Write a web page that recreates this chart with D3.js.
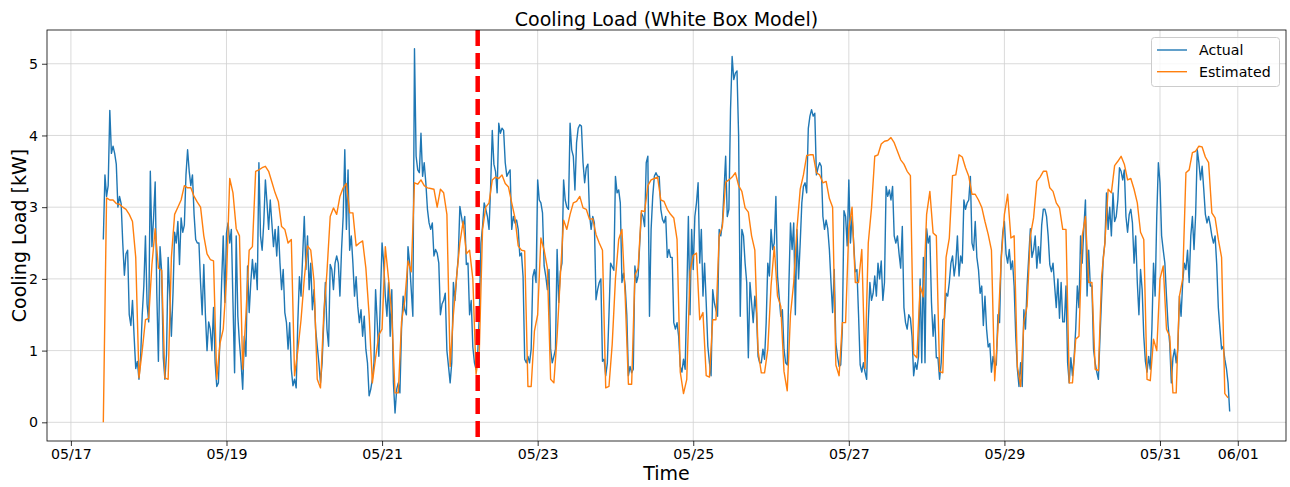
<!DOCTYPE html>
<html>
<head>
	<meta charset="utf-8">
	<title>Cooling Load (White Box Model)</title>
	<script src="https://cdn.jsdelivr.net/npm/d3@7"></script>
	<style>
		body { margin: 0; background: #fff; }
		svg { display: block; font-family: "DejaVu Sans", sans-serif; }
		.grid line { stroke: #d0d0d0; stroke-width: 0.8; }
		.axis text { font-size: 14.2px; fill: #000; font-family: "DejaVu Sans", sans-serif; }
		.axis line { stroke: #000; stroke-width: 0.8; }
	</style>
</head>
<body>
	<div id="chartDiv"></div>
<script>

	// measured load, one value every 30 min from 05/17 10:00
	const actualStart = '2021-05-17 10:00';
	const actualStepMin = 30;
	const actualLoad = [
		2.55,3.45,3.15,3.3,4.35,3.75,3.85,3.75,3.6,3.0,3.15,3.05,
		2.5,2.05,2.35,2.4,1.5,1.35,1.7,1.2,0.75,0.85,0.6,0.9,
		1.5,1.9,2.6,1.65,1.4,3.5,2.45,2.85,3.35,1.8,0.85,2.45,
		2.1,0.9,0.6,0.95,2.3,1.75,1.2,1.8,2.65,2.5,2.8,2.2,
		2.85,2.65,2.75,3.45,3.8,3.5,3.3,3.45,2.9,2.55,2.5,2.5,
		1.95,1.5,2.2,1.5,1.0,1.4,1.3,1.0,1.6,0.83,0.5,0.55,
		1.2,1.95,2.6,1.67,2.64,2.78,2.5,2.69,1.67,0.69,2.6,1.48,
		1.11,0.83,0.46,1.2,0.92,2.18,1.53,1.95,2.27,2.0,2.22,1.85,
		3.62,2.6,2.4,2.78,3.38,3.06,2.69,3.1,2.78,2.45,2.69,2.32,
		2.73,2.22,1.85,2.13,1.53,1.39,1.02,1.39,0.74,0.51,0.6,0.48,
		1.39,2.03,1.76,2.32,2.87,2.13,2.6,1.85,2.22,1.57,1.85,1.3,
		1.06,0.83,0.55,0.83,1.39,1.95,1.3,1.06,2.2,2.13,1.85,2.22,
		2.32,2.22,1.76,2.41,2.87,3.8,2.69,3.52,2.4,2.6,2.22,1.76,
		2.03,1.62,1.39,1.57,1.2,1.48,1.02,0.83,0.37,0.46,0.6,0.83,
		1.85,1.4,0.92,1.76,2.5,2.22,1.76,1.48,1.95,1.2,1.85,0.55,
		0.13,0.46,0.55,0.41,1.3,1.76,1.57,1.5,2.45,2.22,1.85,1.48,
		5.21,3.71,3.52,3.48,4.03,3.43,3.62,3.34,2.97,2.78,2.69,2.78,
		2.32,2.41,2.36,2.22,1.5,1.65,1.7,1.8,1.0,0.78,0.55,0.83,
		1.95,1.7,2.03,2.3,3.01,2.87,2.73,2.87,2.2,2.22,1.5,1.7,
		1.05,0.83,0.74,0.95,1.5,2.5,2.73,3.06,2.97,2.87,2.69,3.3,
		4.07,3.6,3.5,3.2,4.17,4.03,4.1,4.07,3.62,3.43,3.48,3.52,
		2.69,2.87,2.78,2.82,2.69,2.32,2.36,2.03,0.88,0.83,0.92,0.83,
		1.02,2.03,2.13,1.95,3.38,3.1,3.06,2.92,2.18,2.04,1.85,2.13,
		1.02,0.83,0.92,1.02,2.41,1.67,2.1,2.22,3.38,3.1,3.0,2.97,
		4.17,3.8,3.71,3.24,3.9,4.1,4.15,4.13,3.62,3.34,3.55,3.6,
		2.9,2.69,2.87,2.78,1.71,1.85,1.95,2.0,0.85,0.88,0.65,0.83,
		1.5,2.22,2.17,2.12,3.43,3.2,3.24,3.06,1.95,2.08,1.9,1.5,
		0.65,0.78,0.69,0.74,2.18,1.95,2.04,2.5,2.92,2.87,2.73,3.62,
		3.71,1.48,2.69,3.15,3.43,3.48,3.43,3.43,2.97,2.83,2.78,2.87,
		2.3,2.41,2.3,2.3,1.39,1.3,1.39,1.2,0.78,0.7,0.88,0.74,
		1.76,2.87,1.5,2.69,2.13,2.87,3.06,3.34,2.22,2.69,1.76,2.22,
		1.67,1.06,0.83,0.65,1.85,1.67,1.57,1.48,2.69,2.6,2.78,3.24,
		3.71,2.87,2.97,4.36,5.1,4.78,4.87,4.9,4.0,1.48,2.69,2.6,
		2.22,1.95,0.9,1.95,1.67,1.39,1.76,1.53,0.92,0.83,0.83,1.02,
		0.88,1.39,2.22,2.04,2.69,2.41,2.5,3.15,2.04,1.76,1.48,1.57,
		1.02,0.83,0.8,1.9,2.78,2.41,2.78,1.5,2.69,2.0,2.5,3.06,
		3.29,3.34,3.2,4.1,4.27,4.36,4.27,4.31,3.45,3.55,3.62,3.57,
		2.87,2.69,2.82,2.7,2.41,1.95,1.53,2.13,1.1,0.92,0.78,0.8,
		1.3,2.95,2.87,2.46,3.38,2.5,2.87,2.5,2.1,2.13,1.5,0.8,
		0.7,0.83,0.7,0.6,1.4,1.95,1.7,1.8,2.04,1.76,2.22,2.0,
		2.25,1.7,1.95,3.29,3.15,3.24,3.1,3.29,2.6,2.5,2.6,2.35,
		2.15,2.73,1.6,1.39,1.3,1.5,1.45,1.2,0.65,0.83,0.74,0.92,
		2.0,0.83,2.3,0.83,2.7,2.5,2.6,1.67,1.2,1.5,0.9,0.9,
		0.6,0.83,1.43,1.45,1.8,1.76,1.95,2.22,2.32,2.04,2.22,2.6,
		2.04,2.32,2.22,3.1,2.97,3.06,3.1,3.43,2.5,2.4,2.8,2.3,
		2.13,1.8,1.9,1.35,1.76,1.3,1.05,1.1,0.7,0.92,0.8,0.8,
		1.5,1.39,2.3,2.65,2.8,2.35,2.22,2.41,2.13,2.25,1.9,1.2,
		0.74,0.5,0.83,0.5,1.57,1.3,1.9,2.3,2.7,2.3,2.4,2.6,
		2.15,2.45,2.22,2.75,2.97,2.97,2.87,2.6,2.2,2.1,2.22,1.9,
		1.6,2.0,1.45,1.95,1.4,1.4,1.9,0.83,0.55,0.9,0.65,0.9,
		1.3,1.9,1.6,2.6,2.22,2.7,3.1,1.76,2.4,1.9,1.9,1.02,
		0.83,0.7,0.6,1.2,1.76,2.3,2.5,3.2,2.69,3.0,2.6,3.2,
		2.8,2.87,3.1,3.55,3.5,3.38,3.52,2.87,2.65,2.9,2.97,2.78,
		2.22,2.6,1.95,1.5,2.13,1.85,1.2,0.85,0.7,0.92,0.74,1.3,
		2.22,1.76,2.87,3.62,3.34,2.6,2.4,2.22,1.76,1.35,1.1,0.55,
		0.9,1.02,0.83,1.02,1.76,1.48,1.95,2.22,2.13,2.4,1.95,2.6,
		2.87,2.41,2.9,3.8,3.62,3.38,3.57,3.25,2.9,2.78,2.87,2.75,
		2.6,2.5,2.6,2.2,1.6,1.3,1.02,1.06,0.88,0.75,0.55,0.15
	];

	// white box model output, one value every hour from 05/17 10:00
	const estimatedStart = '2021-05-17 10:00';
	const estimatedStepMin = 60;
	const estimatedLoad = [
		0,3.13,3.1,3.1,3.05,3.04,3.0,2.97,2.9,2.8,2.3,0.62,
		1.0,1.43,1.45,2.2,2.7,2.15,2.12,0.62,0.6,2.3,2.9,3.0,
		3.1,3.3,3.27,3.27,3.15,3.07,3.0,2.6,2.35,2.27,2.25,0.6,
		1.1,1.3,2.0,3.4,3.2,2.7,2.6,0.74,1.5,2.4,2.45,3.5,
		3.52,3.55,3.57,3.5,3.35,3.2,3.08,2.73,2.69,2.5,2.55,0.65,
		1.0,1.43,2.0,2.46,2.4,1.97,0.6,0.48,1.5,2.1,2.87,2.99,
		2.9,3.15,3.27,3.33,2.92,2.92,2.46,2.5,2.53,2.15,1.5,0.55,
		0.9,1.22,1.3,2.45,2.0,1.5,0.41,0.41,1.4,1.7,2.25,2.1,
		3.34,3.32,3.38,3.3,3.27,3.26,3.25,3.0,3.25,3.2,2.9,0.78,
		1.5,2.03,2.5,2.8,2.35,2.4,2.0,0.67,1.0,2.69,3.0,3.06,
		3.38,3.42,3.4,3.45,3.33,3.28,3.06,2.85,2.46,2.4,2.39,0.5,
		0.5,1.27,1.5,2.57,2.4,2.15,0.6,0.55,1.2,2.04,2.82,2.69,
		2.9,3.06,3.08,3.15,2.99,2.97,2.83,2.84,2.62,2.5,2.4,0.48,
		0.5,1.09,2.0,2.55,2.69,1.76,0.53,0.53,2.05,2.15,2.95,2.94,
		3.3,3.38,3.4,3.42,3.1,3.08,2.97,2.9,2.85,2.55,0.7,0.4,
		0.6,2.1,2.33,2.36,1.43,1.53,0.65,0.63,1.43,1.43,2.6,2.73,
		3.35,3.38,3.42,3.48,3.3,3.22,2.99,2.93,2.6,2.4,1.0,0.69,
		0.69,1.02,1.9,2.45,1.76,1.62,0.71,0.44,1.5,1.95,2.7,3.25,
		3.45,3.72,3.73,3.73,3.48,3.45,3.34,3.36,3.12,3.0,0.8,0.65,
		1.39,1.39,2.7,3.0,1.95,1.95,2.41,0.75,2.5,2.99,3.71,3.73,
		3.88,3.92,3.93,3.97,3.9,3.78,3.66,3.6,3.5,3.44,0.95,0.9,
		1.9,1.75,2.9,3.22,2.64,2.6,0.71,0.69,2.3,2.57,3.44,3.45,
		3.73,3.7,3.55,3.43,3.18,3.18,3.1,3.0,2.8,2.62,2.4,0.58,
		1.3,2.25,2.9,3.18,2.57,2.6,0.78,0.5,1.4,1.62,2.6,2.85,
		3.36,3.42,3.5,3.5,3.27,3.22,3.06,2.99,2.69,2.69,0.55,0.55,
		1.16,1.2,2.6,2.87,1.95,1.95,0.74,0.72,2.04,2.5,3.25,3.2,
		3.58,3.64,3.71,3.6,3.38,3.4,3.25,3.06,2.65,2.55,0.6,0.58,
		1.16,1.0,2.0,2.18,1.3,1.2,0.41,0.41,1.76,2.0,3.48,3.52,
		3.76,3.78,3.85,3.84,3.7,3.62,2.92,2.85,2.55,2.3,0.4,0.34
	];

	// train / test split marker
	const splitTime = '2021-05-22 05:30';

	const xTickLabels = ['05/17','05/19','05/21','05/23','05/25','05/27','05/29','05/31','06/01'];
	const yTicks = [0, 1, 2, 3, 4, 5];
	const seriesNames = ['Actual', 'Estimated'];
	const seriesColors = ['#1f77b4', '#ff7f0e'];

	const width = 1290;
	const height = 487;
	const margin = {
		left: 47,
		right: 4,
		top: 30,
		bottom: 46
	};
	const innerW = width - margin.left - margin.right;
	const innerH = height - margin.top - margin.bottom;

	const parseTime = d3.timeParse('%Y-%m-%d %H:%M');
	const parseTick = d3.timeParse('%Y/%m/%d');

	const toPoints = (start, step, values) => {
		const t0 = parseTime(start);
		return values.map((v, i) => ({ time: d3.timeMinute.offset(t0, i * step), value: v }));
	};

	const actualPts = toPoints(actualStart, actualStepMin, actualLoad);
	const estimatedPts = toPoints(estimatedStart, estimatedStepMin, estimatedLoad);
	const allPts = actualPts.concat(estimatedPts);

	//Setup Scales (5% padding like matplotlib)
	const [tMin, tMax] = d3.extent(allPts, d => d.time);
	const tPad = (tMax - tMin) * 0.05;
	const xScale = d3.scaleTime()
		.domain([new Date(+tMin - tPad), new Date(+tMax + tPad)])
		.range([0, innerW]);

	const [vMin, vMax] = d3.extent(allPts, d => d.value);
	const vPad = (vMax - vMin) * 0.05;
	const yScale = d3.scaleLinear()
		.domain([vMin - vPad, vMax + vPad])
		.range([innerH, 0]);

	const xTickDates = xTickLabels.map(s => parseTick('2021/' + s));

	//Select/Create svg, g
	const svgObj = d3.select('#chartDiv').append('svg')
		.attr('width', width)
		.attr('height', height);

	const gObj = svgObj.append('g')
		.attr('transform', `translate(${margin.left},${margin.top})`);

	//grid
	const gridG = gObj.append('g').attr('class', 'grid');
	gridG.selectAll('.vgrid')
		.data(xTickDates)
		.enter()
		.append('line')
		.attr('x1', d => xScale(d))
		.attr('x2', d => xScale(d))
		.attr('y1', 0)
		.attr('y2', innerH);
	gridG.selectAll('.hgrid')
		.data(yTicks)
		.enter()
		.append('line')
		.attr('x1', 0)
		.attr('x2', innerW)
		.attr('y1', d => yScale(d))
		.attr('y2', d => yScale(d));

	//lines
	const lineFunc = d3.line()
		.x(d => xScale(d.time))
		.y(d => yScale(d.value));

	[actualPts, estimatedPts].forEach((pts, i) => {
		gObj.append('path')
			.datum(pts)
			.attr('d', lineFunc)
			.attr('fill', 'none')
			.attr('stroke', seriesColors[i])
			.attr('stroke-width', 1.4)
			.attr('stroke-linejoin', 'round');
	});

	//split marker
	const splitX = xScale(parseTime(splitTime));
	gObj.append('line')
		.attr('x1', splitX)
		.attr('x2', splitX)
		.attr('y1', 0)
		.attr('y2', innerH)
		.attr('stroke', '#ff0000')
		.attr('stroke-width', 4.5)
		.attr('stroke-dasharray', '16 7');

	//axes
	const xAxis = d3.axisBottom(xScale)
		.tickValues(xTickDates)
		.tickFormat(d3.timeFormat('%m/%d'))
		.tickSize(5)
		.tickPadding(3);
	const yAxis = d3.axisLeft(yScale)
		.tickValues(yTicks)
		.tickFormat(d3.format('d'))
		.tickSize(5)
		.tickPadding(4);

	gObj.append('g')
		.attr('class', 'axis')
		.attr('transform', `translate(0,${innerH})`)
		.call(xAxis)
		.call(g => g.select('.domain').remove());

	gObj.append('g')
		.attr('class', 'axis')
		.call(yAxis)
		.call(g => g.select('.domain').remove());

	//frame
	gObj.append('rect')
		.attr('x', 0)
		.attr('y', 0)
		.attr('width', innerW)
		.attr('height', innerH)
		.attr('fill', 'none')
		.attr('stroke', '#000')
		.attr('stroke-width', 0.8);

	//labels
	svgObj.append('text')
		.attr('x', margin.left + innerW / 2)
		.attr('y', 26)
		.attr('text-anchor', 'middle')
		.style('font-size', '19px')
		.text('Cooling Load (White Box Model)');

	svgObj.append('text')
		.attr('x', margin.left + innerW / 2)
		.attr('y', 480)
		.attr('text-anchor', 'middle')
		.style('font-size', '19px')
		.text('Time');

	svgObj.append('text')
		.attr('transform', `translate(26,${margin.top + innerH / 2}) rotate(-90)`)
		.attr('text-anchor', 'middle')
		.style('font-size', '19px')
		.text('Cooling Load [kW]');

	//legend
	const legendW = 128;
	const legendH = 49;
	const legendG = gObj.append('g')
		.attr('transform', `translate(${innerW - 7 - legendW},7)`);

	legendG.append('rect')
		.attr('x', 0.5)
		.attr('y', 0.5)
		.attr('width', legendW)
		.attr('height', legendH)
		.attr('rx', 3)
		.attr('fill', '#fff')
		.attr('fill-opacity', 0.8)
		.attr('stroke', '#cccccc')
		.attr('stroke-width', 1);

	seriesNames.forEach((name, i) => {
		const ly = 13 + i * 21.7;
		legendG.append('line')
			.attr('x1', 6)
			.attr('x2', 36)
			.attr('y1', ly)
			.attr('y2', ly)
			.attr('stroke', seriesColors[i])
			.attr('stroke-width', 1.4);
		legendG.append('text')
			.attr('x', 48)
			.attr('y', ly)
			.attr('dy', '0.35em')
			.style('font-size', '14.2px')
			.text(name);
	});

</script>
</body>
</html>
